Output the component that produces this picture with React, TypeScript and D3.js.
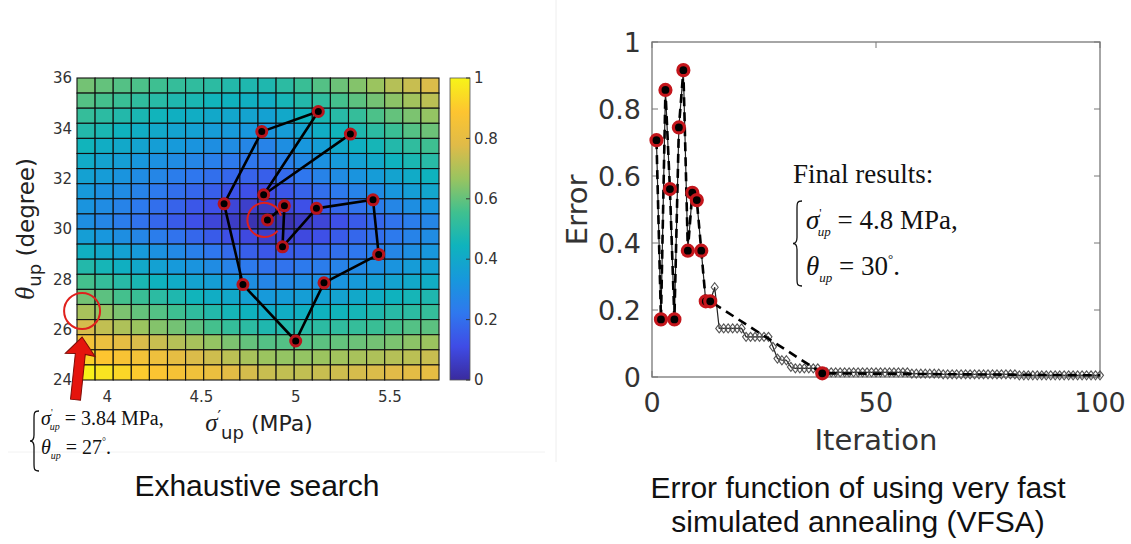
import React, { useEffect, useRef } from 'react'
import * as d3 from 'd3'

// ---------- exhaustive search: misfit on a sigma'_up x theta_up grid ----------
const sigmaDomain = [3.84, 5.76]
const thetaDomain = [24, 36]
// one row per theta band, top row = 36 deg, bottom row = 24 deg; columns go left -> right in sigma
const misfit = [
	[0.62, 0.6, 0.58, 0.57, 0.55, 0.53, 0.52, 0.51, 0.49, 0.48, 0.48, 0.51, 0.54, 0.58, 0.61, 0.64, 0.67, 0.71, 0.74, 0.77],
	[0.58, 0.56, 0.54, 0.52, 0.5, 0.48, 0.47, 0.45, 0.44, 0.43, 0.42, 0.46, 0.49, 0.52, 0.56, 0.59, 0.62, 0.65, 0.68, 0.72],
	[0.53, 0.51, 0.49, 0.47, 0.45, 0.43, 0.42, 0.4, 0.39, 0.38, 0.37, 0.4, 0.44, 0.47, 0.5, 0.53, 0.57, 0.6, 0.63, 0.66],
	[0.49, 0.47, 0.44, 0.42, 0.4, 0.38, 0.37, 0.35, 0.34, 0.33, 0.32, 0.35, 0.38, 0.42, 0.45, 0.48, 0.51, 0.54, 0.58, 0.61],
	[0.45, 0.42, 0.4, 0.38, 0.36, 0.34, 0.32, 0.3, 0.29, 0.27, 0.26, 0.3, 0.33, 0.36, 0.4, 0.43, 0.46, 0.49, 0.52, 0.55],
	[0.41, 0.38, 0.36, 0.33, 0.31, 0.29, 0.27, 0.25, 0.23, 0.22, 0.21, 0.25, 0.28, 0.31, 0.34, 0.37, 0.4, 0.44, 0.47, 0.5],
	[0.37, 0.35, 0.32, 0.29, 0.27, 0.24, 0.22, 0.2, 0.18, 0.17, 0.16, 0.19, 0.22, 0.26, 0.29, 0.32, 0.35, 0.38, 0.41, 0.44],
	[0.34, 0.31, 0.29, 0.26, 0.23, 0.2, 0.18, 0.16, 0.13, 0.12, 0.11, 0.14, 0.17, 0.2, 0.23, 0.26, 0.29, 0.33, 0.36, 0.39],
	[0.32, 0.29, 0.26, 0.23, 0.2, 0.17, 0.14, 0.12, 0.09, 0.07, 0.05, 0.09, 0.12, 0.15, 0.18, 0.21, 0.24, 0.27, 0.3, 0.33],
	[0.3, 0.27, 0.24, 0.21, 0.18, 0.15, 0.12, 0.09, 0.06, 0.03, 0.02, 0.03, 0.06, 0.09, 0.12, 0.15, 0.18, 0.21, 0.24, 0.27],
	[0.36, 0.33, 0.3, 0.27, 0.24, 0.21, 0.18, 0.15, 0.12, 0.1, 0.07, 0.08, 0.1, 0.12, 0.15, 0.18, 0.2, 0.23, 0.26, 0.29],
	[0.43, 0.4, 0.37, 0.34, 0.31, 0.28, 0.25, 0.22, 0.19, 0.16, 0.14, 0.15, 0.16, 0.18, 0.2, 0.22, 0.25, 0.27, 0.3, 0.33],
	[0.49, 0.46, 0.43, 0.4, 0.37, 0.34, 0.32, 0.29, 0.26, 0.23, 0.21, 0.21, 0.23, 0.24, 0.26, 0.28, 0.3, 0.32, 0.35, 0.37],
	[0.56, 0.53, 0.5, 0.47, 0.44, 0.41, 0.38, 0.36, 0.33, 0.3, 0.27, 0.28, 0.29, 0.3, 0.32, 0.34, 0.36, 0.38, 0.4, 0.42],
	[0.62, 0.59, 0.56, 0.54, 0.51, 0.48, 0.45, 0.42, 0.4, 0.37, 0.34, 0.35, 0.36, 0.37, 0.38, 0.4, 0.42, 0.44, 0.46, 0.48],
	[0.69, 0.66, 0.63, 0.6, 0.58, 0.55, 0.52, 0.49, 0.46, 0.44, 0.41, 0.42, 0.43, 0.44, 0.45, 0.46, 0.48, 0.5, 0.51, 0.53],
	[0.76, 0.73, 0.7, 0.67, 0.64, 0.62, 0.59, 0.56, 0.53, 0.51, 0.48, 0.49, 0.5, 0.51, 0.52, 0.53, 0.54, 0.56, 0.58, 0.59],
	[0.85, 0.82, 0.8, 0.77, 0.74, 0.71, 0.69, 0.66, 0.63, 0.6, 0.58, 0.58, 0.58, 0.59, 0.6, 0.61, 0.62, 0.63, 0.65, 0.67],
	[0.92, 0.89, 0.87, 0.85, 0.83, 0.8, 0.77, 0.75, 0.72, 0.69, 0.67, 0.66, 0.66, 0.67, 0.68, 0.69, 0.7, 0.71, 0.72, 0.74],
	[0.99, 0.96, 0.93, 0.9, 0.88, 0.86, 0.84, 0.82, 0.79, 0.76, 0.74, 0.73, 0.73, 0.74, 0.75, 0.76, 0.77, 0.78, 0.79, 0.8],
]
const sigmaTicks = [4, 4.5, 5, 5.5]
const thetaTicks = [24, 26, 28, 30, 32, 34, 36]
const colorbarTicks = [0, 0.2, 0.4, 0.6, 0.8, 1]

// models accepted by VFSA, in search order (last one is the final answer)
const vfsaSigma = [5.29, 4.83, 5.12, 4.82, 4.62, 4.72, 5.0, 5.15, 5.44, 5.41, 5.11, 4.93, 4.94, 4.85]
const vfsaTheta = [33.77, 31.36, 34.67, 33.87, 31.0, 27.79, 25.55, 27.86, 28.99, 31.16, 30.82, 29.29, 30.92, 30.36]

// the exhaustive search pick (red circle + arrow in the corner)
const exhaustivePick = { sigma: 3.867, theta: 26.74 }

// ---------- VFSA error vs iteration ----------
// error of the model tried at each iteration 1..100
const iterationError = [
	0.707, 0.172, 0.857, 0.561, 0.172, 0.745, 0.916, 0.377, 0.55, 0.528,
	0.377, 0.226, 0.226, 0.268, 0.145, 0.145, 0.145, 0.145, 0.145, 0.145,
	0.12, 0.12, 0.12, 0.12, 0.12, 0.12, 0.09, 0.055, 0.05, 0.05,
	0.03, 0.026, 0.026, 0.026, 0.026, 0.026, 0.026, 0.011, 0.014, 0.014,
	0.014, 0.014, 0.014, 0.014, 0.014, 0.014, 0.014, 0.014, 0.014, 0.014,
	0.014, 0.014, 0.014, 0.014, 0.014, 0.014, 0.014, 0.01, 0.01, 0.01,
	0.01, 0.01, 0.01, 0.01, 0.008, 0.008, 0.008, 0.008, 0.008, 0.008,
	0.008, 0.008, 0.008, 0.008, 0.008, 0.008, 0.008, 0.008, 0.008, 0.008,
	0.008, 0.005, 0.005, 0.005, 0.005, 0.005, 0.005, 0.005, 0.005, 0.005,
	0.005, 0.005, 0.005, 0.005, 0.005, 0.005, 0.005, 0.005, 0.005, 0.005,
]
// accepted models (red dots)
const acceptedIteration = [1, 2, 3, 4, 5, 6, 7, 8, 9, 10, 11, 12, 13, 38]
const acceptedError = [0.707, 0.172, 0.857, 0.561, 0.172, 0.745, 0.916, 0.377, 0.55, 0.528, 0.377, 0.226, 0.226, 0.011]
const iterationTicks = [0, 50, 100]
const errorTicks = [0, 0.2, 0.4, 0.6, 0.8, 1]

// parula-like colour map, a bit brighter like the screenshot
const parula = ['#3a2b9e', '#3f4ce6', '#2f78ee', '#1798dc', '#0fb3bd', '#40c08f', '#99c460', '#e0bb48', '#fdc530', '#f7f418']

const SANS = 'DejaVu Sans, sans-serif'
const SERIF = 'Liberation Serif, Times New Roman, serif'
const ARIAL = 'Liberation Sans, Arial, sans-serif'

type Piece = { t: string; size?: number; italic?: boolean; family?: string; dx?: number; dy?: number }

// text made of several tspans (sub/superscripts)
const addText = (sel: any, x: number, y: number, pieces: Piece[], o: any) => {
	const t = sel
		.append('text')
		.attr('x', x)
		.attr('y', y)
		.attr('font-family', o.family)
		.attr('font-size', o.size)
		.attr('fill', o.fill || '#111')
		.attr('text-anchor', o.anchor || 'start')
	if (o.transform) t.attr('transform', o.transform)
	pieces.forEach(p => {
		const s = t.append('tspan').text(p.t)
		if (p.size) s.attr('font-size', p.size)
		if (p.italic) s.attr('font-style', 'italic')
		if (p.family) s.attr('font-family', p.family)
		if (p.dx) s.attr('dx', p.dx)
		if (p.dy) s.attr('dy', p.dy)
	})
	return t
}

// left curly brace, tips at xr
const brace = (sel: any, xr: number, y0: number, y1: number) => {
	const xm = xr - 5,
		xl = xr - 9,
		ym = (y0 + y1) / 2
	const d = `M${xr},${y0} C${xm},${y0} ${xm},${y0 + 2} ${xm},${y0 + 8} L${xm},${ym - 6} C${xm},${ym - 2} ${xm - 1},${ym} ${xl},${ym} C${xm - 1},${ym} ${xm},${ym + 2} ${xm},${ym + 6} L${xm},${y1 - 8} C${xm},${y1 - 2} ${xm},${y1} ${xr},${y1}`
	sel.append('path').attr('d', d).attr('fill', 'none').attr('stroke', '#111').attr('stroke-width', 1.3)
}

const drawHeatmap = (svg: any) => {
	const x = d3.scaleLinear().domain(sigmaDomain).range([77, 439])
	const y = d3.scaleLinear().domain(thetaDomain).range([380, 78])
	const color = d3
		.scaleLinear<string>()
		.domain(parula.map((_, i) => i / (parula.length - 1)))
		.range(parula)
		.clamp(true)

	const nRow = misfit.length
	const nCol = misfit[0].length
	const dS = (sigmaDomain[1] - sigmaDomain[0]) / nCol
	const dT = (thetaDomain[1] - thetaDomain[0]) / nRow

	const cells = misfit.flatMap((row, j) => row.map((v, i) => ({ i, j, v })))
	const g = svg.append('g')
	g.selectAll('rect.cell')
		.data(cells)
		.enter()
		.append('rect')
		.attr('class', 'cell')
		.attr('x', d => x(sigmaDomain[0] + d.i * dS))
		.attr('y', d => y(thetaDomain[1] - d.j * dT))
		.attr('width', d => x(sigmaDomain[0] + (d.i + 1) * dS) - x(sigmaDomain[0] + d.i * dS))
		.attr('height', d => y(thetaDomain[1] - (d.j + 1) * dT) - y(thetaDomain[1] - d.j * dT))
		.attr('fill', d => color(d.v))
		.attr('stroke', '#111')
		.attr('stroke-width', 1.1)

	// tick labels
	g.selectAll('text.yt')
		.data(thetaTicks)
		.enter()
		.append('text')
		.attr('x', 72)
		.attr('y', d => y(d))
		.attr('dy', '0.35em')
		.attr('text-anchor', 'end')
		.attr('font-family', SANS)
		.attr('font-size', 15)
		.attr('fill', '#333')
		.text(d => d)
	g.selectAll('text.xt')
		.data(sigmaTicks)
		.enter()
		.append('text')
		.attr('x', d => x(d))
		.attr('y', 402)
		.attr('text-anchor', 'middle')
		.attr('font-family', SANS)
		.attr('font-size', 15)
		.attr('fill', '#333')
		.text(d => d)

	// colorbar
	const cb = d3.scaleLinear().domain([0, 1]).range([380, 78])
	const grad = svg
		.append('defs')
		.append('linearGradient')
		.attr('id', 'parula')
		.attr('x1', 0)
		.attr('y1', 1)
		.attr('x2', 0)
		.attr('y2', 0)
	parula.forEach((c, i) => {
		grad.append('stop').attr('offset', i / (parula.length - 1)).attr('stop-color', c)
	})
	g.append('rect')
		.attr('x', 450)
		.attr('y', cb(1))
		.attr('width', 20)
		.attr('height', cb(0) - cb(1))
		.attr('fill', 'url(#parula)')
		.attr('stroke', '#555')
		.attr('stroke-width', 0.8)
	g.selectAll('line.cbt')
		.data(colorbarTicks)
		.enter()
		.append('line')
		.attr('x1', 466)
		.attr('x2', 470)
		.attr('y1', d => cb(d))
		.attr('y2', d => cb(d))
		.attr('stroke', '#333')
	g.selectAll('text.cbl')
		.data(colorbarTicks)
		.enter()
		.append('text')
		.attr('x', 474)
		.attr('y', d => cb(d))
		.attr('dy', '0.35em')
		.attr('font-family', SANS)
		.attr('font-size', 15)
		.attr('fill', '#333')
		.text(d => d)

	// VFSA walk on top of the grid
	const pts = vfsaSigma.map((s, i) => [x(s), y(vfsaTheta[i])] as [number, number])
	g.append('path')
		.attr('d', d3.line()(pts))
		.attr('fill', 'none')
		.attr('stroke', '#000')
		.attr('stroke-width', 2.6)
		.attr('stroke-linejoin', 'round')
	g.selectAll('circle.walk')
		.data(pts)
		.enter()
		.append('circle')
		.attr('cx', d => d[0])
		.attr('cy', d => d[1])
		.attr('r', 5)
		.attr('fill', '#000')
		.attr('stroke', '#b8141c')
		.attr('stroke-width', 3)

	// open red circle round the final model
	const last = pts[pts.length - 1]
	const arc = d3.arc()({ innerRadius: 17, outerRadius: 17, startAngle: Math.PI * 0.72, endAngle: Math.PI * 2.42 } as any)
	g.append('path')
		.attr('d', arc)
		.attr('transform', `translate(${last[0] - 3},${last[1]})`)
		.attr('fill', 'none')
		.attr('stroke', '#e0201c')
		.attr('stroke-width', 2)

	// exhaustive search pick + arrow
	const px = x(exhaustivePick.sigma)
	const py = y(exhaustivePick.theta)
	g.append('circle')
		.attr('cx', px)
		.attr('cy', py)
		.attr('r', 18)
		.attr('fill', 'none')
		.attr('stroke', '#e0201c')
		.attr('stroke-width', 2)
	g.append('path')
		.attr('d', 'M0,0 L15,18 L5,17 L5,63 L-5,63 L-5,17 L-15,18 Z')
		.attr('transform', `translate(${px},${py + 26}) rotate(6)`)
		.attr('fill', '#e5140d')
		.attr('stroke', '#7d0b06')
		.attr('stroke-width', 1)

	// axis labels
	addText(
		svg,
		0,
		0,
		[
			{ t: 'θ', italic: true, family: SERIF, size: 27 },
			{ t: 'up', dy: 7, size: 18 },
			{ t: ' (degree)', dy: -7 },
		],
		{ family: SANS, size: 23, anchor: 'middle', fill: '#222', transform: 'translate(34,229) rotate(-90)' }
	)
	addText(
		svg,
		259,
		431,
		[
			{ t: 'σ', italic: true, family: SERIF, size: 25 },
			{ t: '′', size: 16, dy: -9 },
			{ t: 'up', size: 18, dy: 17 },
			{ t: ' (MPa)', dy: -8 },
		],
		{ family: SANS, size: 22, anchor: 'middle', fill: '#222' }
	)

	// exhaustive search result
	brace(svg, 39, 411, 471)
	addText(
		svg,
		41,
		425,
		[
			{ t: 'σ', italic: true },
			{ t: "'", size: 10, dy: -9 },
			{ t: 'up', size: 10, italic: true, dx: -3, dy: 14 },
			{ t: ' = 3.84 MPa,', dy: -5 },
		],
		{ family: SERIF, size: 20 }
	)
	addText(
		svg,
		41,
		454,
		[
			{ t: 'θ', italic: true },
			{ t: 'up', size: 10, italic: true, dy: 5 },
			{ t: ' = 27', dy: -5 },
			{ t: '°', size: 10, dy: -9 },
			{ t: '.', dy: 9 },
		],
		{ family: SERIF, size: 20 }
	)

	svg.append('text')
		.attr('x', 257)
		.attr('y', 496)
		.attr('text-anchor', 'middle')
		.attr('font-family', ARIAL)
		.attr('font-size', 30)
		.attr('fill', '#111')
		.text('Exhaustive search')
}

const drawErrorCurve = (svg: any) => {
	const x = d3.scaleLinear().domain([0, 100]).range([652, 1100])
	const y = d3.scaleLinear().domain([0, 1]).range([377, 42])
	const g = svg.append('g')

	// box + inward ticks
	g.append('rect')
		.attr('x', x(0))
		.attr('y', y(1))
		.attr('width', x(100) - x(0))
		.attr('height', y(0) - y(1))
		.attr('fill', 'none')
		.attr('stroke', '#777')
		.attr('stroke-width', 1.3)
	errorTicks.forEach(t => {
		g.append('line').attr('x1', x(0)).attr('x2', x(0) + 6).attr('y1', y(t)).attr('y2', y(t)).attr('stroke', '#777')
		g.append('line').attr('x1', x(100)).attr('x2', x(100) - 6).attr('y1', y(t)).attr('y2', y(t)).attr('stroke', '#777')
	})
	iterationTicks.forEach(t => {
		g.append('line').attr('x1', x(t)).attr('x2', x(t)).attr('y1', y(0)).attr('y2', y(0) - 6).attr('stroke', '#777')
		g.append('line').attr('x1', x(t)).attr('x2', x(t)).attr('y1', y(1)).attr('y2', y(1) + 6).attr('stroke', '#777')
	})

	g.selectAll('text.yt')
		.data(errorTicks)
		.enter()
		.append('text')
		.attr('x', 641)
		.attr('y', d => y(d))
		.attr('dy', '0.36em')
		.attr('text-anchor', 'end')
		.attr('font-family', SANS)
		.attr('font-size', 27)
		.attr('fill', '#333')
		.text(d => d)
	g.selectAll('text.xt')
		.data(iterationTicks)
		.enter()
		.append('text')
		.attr('x', d => x(d))
		.attr('y', 412)
		.attr('text-anchor', 'middle')
		.attr('font-family', SANS)
		.attr('font-size', 27)
		.attr('fill', '#333')
		.text(d => d)

	// every tried model: thin line + open diamonds
	const all = iterationError.map((e, i) => [x(i + 1), y(e)] as [number, number])
	g.append('path')
		.attr('d', d3.line()(all))
		.attr('fill', 'none')
		.attr('stroke', '#222')
		.attr('stroke-width', 1.2)
	g.selectAll('path.dia')
		.data(all)
		.enter()
		.append('path')
		.attr('d', 'M0,-4.5 L3.5,0 L0,4.5 L-3.5,0 Z')
		.attr('transform', d => `translate(${d[0]},${d[1]})`)
		.attr('fill', 'none')
		.attr('stroke', '#555')
		.attr('stroke-width', 1.1)

	// accepted models: dashed line, carried on to the last iteration
	const acc = acceptedIteration.map((it, i) => [x(it), y(acceptedError[i])] as [number, number])
	const dashed = acc.concat([[x(iterationError.length), y(iterationError[iterationError.length - 1])]])
	g.append('path')
		.attr('d', d3.line()(dashed))
		.attr('fill', 'none')
		.attr('stroke', '#000')
		.attr('stroke-width', 2.6)
		.attr('stroke-dasharray', '9,6')
	g.selectAll('circle.acc')
		.data(acc)
		.enter()
		.append('circle')
		.attr('cx', d => d[0])
		.attr('cy', d => d[1])
		.attr('r', 5.5)
		.attr('fill', '#000')
		.attr('stroke', '#c4161c')
		.attr('stroke-width', 3.2)

	// axis labels
	svg.append('text')
		.attr('transform', 'translate(587,210) rotate(-90)')
		.attr('text-anchor', 'middle')
		.attr('font-family', SANS)
		.attr('font-size', 29)
		.attr('fill', '#333')
		.text('Error')
	svg.append('text')
		.attr('x', 876)
		.attr('y', 450)
		.attr('text-anchor', 'middle')
		.attr('font-family', SANS)
		.attr('font-size', 29)
		.attr('fill', '#333')
		.text('Iteration')

	// final result note
	svg.append('text')
		.attr('x', 793)
		.attr('y', 183)
		.attr('font-family', SERIF)
		.attr('font-size', 27)
		.attr('fill', '#111')
		.text('Final results:')
	brace(svg, 802, 201, 286)
	addText(
		svg,
		806,
		229,
		[
			{ t: 'σ', italic: true },
			{ t: "'", size: 13, dy: -12 },
			{ t: 'up', size: 13, italic: true, dx: -4, dy: 19 },
			{ t: ' = 4.8 MPa,', dy: -7 },
		],
		{ family: SERIF, size: 27 }
	)
	addText(
		svg,
		806,
		275,
		[
			{ t: 'θ', italic: true },
			{ t: 'up', size: 13, italic: true, dy: 7 },
			{ t: ' = 30', dy: -7 },
			{ t: '°', size: 13, dy: -12 },
			{ t: '.', dy: 12 },
		],
		{ family: SERIF, size: 27 }
	)

	const title = svg
		.append('text')
		.attr('text-anchor', 'middle')
		.attr('font-family', ARIAL)
		.attr('font-size', 30)
		.attr('fill', '#111')
	title.append('tspan').attr('x', 858).attr('y', 498).text('Error function of using very fast')
	title.append('tspan').attr('x', 858).attr('y', 532).text('simulated annealing (VFSA)')
}

export default function App() {
	const ref = useRef<SVGSVGElement>(null)

	useEffect(() => {
		const svg = d3.select(ref.current)
		svg.selectAll('*').remove()
		// faint slide frames
		svg.append('line').attr('x1', 556).attr('x2', 556).attr('y1', 0).attr('y2', 462).attr('stroke', '#eee')
		svg.append('line').attr('x1', 8).attr('x2', 545).attr('y1', 452).attr('y2', 452).attr('stroke', '#f2f2f2')
		drawHeatmap(svg)
		drawErrorCurve(svg)
	}, [])

	return (
		<svg
			ref={ref}
			width={1131}
			height={544}
			style={{ position: 'absolute', left: 0, top: 0, background: '#fff' }}
		></svg>
	)
}
